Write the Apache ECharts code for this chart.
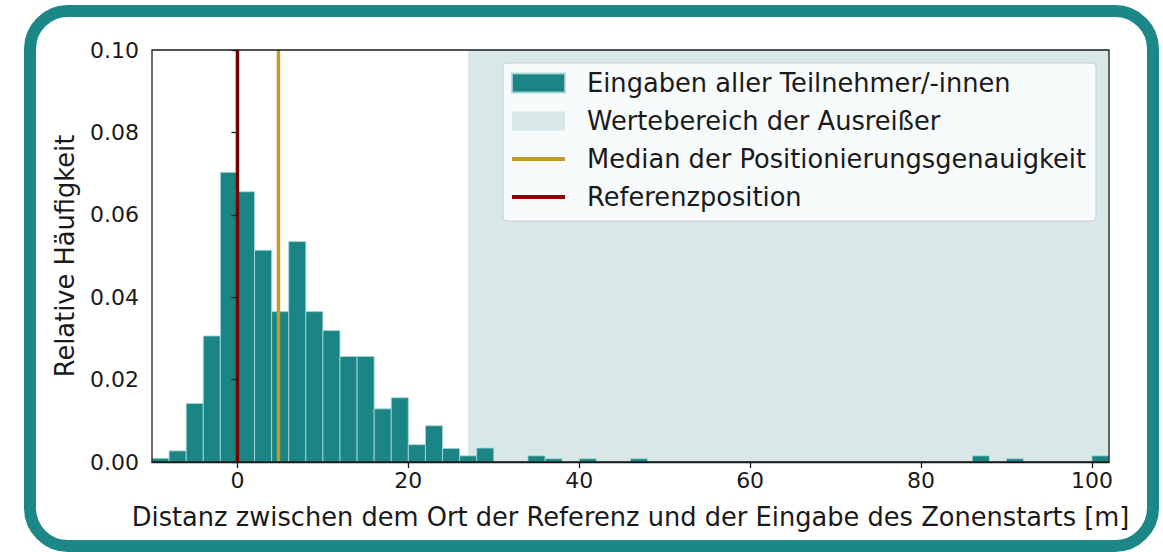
<!DOCTYPE html>
<html>
<head>
<meta charset="utf-8">
<script src="https://cdn.jsdelivr.net/npm/echarts@6/dist/echarts.min.js"></script>
<style>
  html, body { margin: 0; padding: 0; background: #ffffff; }
  #wrap { position: relative; width: 1163px; height: 552px; overflow: hidden; background: #fff; }
  #chart { position: absolute; left: 0; top: 0; width: 1163px; height: 552px; }
  #frame { position: absolute; left: 24px; top: 5px; width: 1135px; height: 547px; box-sizing: border-box;
           border: 12px solid #1b8787; border-radius: 44px; pointer-events: none; }
</style>
</head>
<body>
<div id="wrap">
  <div id="chart"></div>
  <div id="frame"></div>
</div>
<script>
// ---- data ----
const binWidth = 2;
const binLeft = [-10, -8, -6, -4, -2, 0, 2, 4, 6, 8, 10, 12, 14, 16, 18, 20, 22, 24, 26, 28, 34, 36, 40, 46, 86, 90, 100];
const relFreq = [0.0009, 0.0027, 0.0142, 0.0306, 0.0703, 0.0656, 0.0514, 0.0365, 0.0535, 0.0365, 0.0319, 0.0256, 0.0256, 0.0129, 0.0156, 0.0042, 0.0088, 0.0033, 0.0015, 0.0034, 0.0015, 0.0008, 0.0008, 0.0008, 0.0015, 0.0008, 0.0015];
const outlierRange = [27.0, 102];
const medianValue = 4.8;
const referenceValue = 0;
const xTicks = [0, 20, 40, 60, 80, 100];
const yTicks = [0, 0.02, 0.04, 0.06, 0.08, 0.10];
const xRange = [-10, 102];
const yRange = [0, 0.10];
const names = {
  bars: 'Eingaben aller Teilnehmer/-innen',
  outliers: 'Wertebereich der Ausreißer',
  median: 'Median der Positionierungsgenauigkeit',
  reference: 'Referenzposition'
};
const xTitle = 'Distanz zwischen dem Ort der Referenz und der Eingabe des Zonenstarts [m]';
const yTitle = 'Relative Häufigkeit';

// ---- styles ----
const TEAL = '#1b8585';
const SHADE = '#d8e8e8';
const GOLD = '#c09c2e';
const DARKRED = '#8b0000';
const FONT = 'DejaVu Sans';
const LINE_ICON = 'path://M0,0 L53,0 L53,4 L0,4 Z';

const barData = binLeft.map((l, i) => [l, l + binWidth, relFreq[i]]);

function clipToGrid(rect, params) {
  return echarts.graphic.clipRectByRect(rect, {
    x: params.coordSys.x, y: params.coordSys.y,
    width: params.coordSys.width, height: params.coordSys.height
  });
}

const chart = echarts.init(document.getElementById('chart'), null, { renderer: 'svg' });
chart.setOption({
  animation: false,
  backgroundColor: '#ffffff',
  grid: { left: 152, right: 54, top: 50, bottom: 90, show: true, borderColor: '#1a1a1a', borderWidth: 1.3, backgroundColor: 'transparent', z: 10 },
  xAxis: {
    type: 'value', min: xRange[0], max: xRange[1],
    name: xTitle, nameLocation: 'middle', nameGap: 42,
    nameTextStyle: { fontFamily: FONT, fontSize: 25.7, color: '#1a1a1a' },
    axisLine: { show: true, onZero: false, lineStyle: { color: '#1a1a1a', width: 1.3 } },
    axisTick: { show: true, length: 6, customValues: xTicks, lineStyle: { color: '#1a1a1a', width: 1.3 } },
    axisLabel: { customValues: xTicks, fontFamily: FONT, fontSize: 22, color: '#1a1a1a', margin: 7 },
    splitLine: { show: false }, z: 10
  },
  yAxis: {
    type: 'value', min: yRange[0], max: yRange[1], interval: 0.02,
    name: yTitle, nameLocation: 'middle', nameGap: 74,
    nameTextStyle: { fontFamily: FONT, fontSize: 25.7, color: '#1a1a1a' },
    axisLine: { show: true, lineStyle: { color: '#1a1a1a', width: 1.3 } },
    axisTick: { show: true, length: 6, lineStyle: { color: '#1a1a1a', width: 1.3 } },
    axisLabel: { fontFamily: FONT, fontSize: 22, color: '#1a1a1a', margin: 13, formatter: v => v.toFixed(2) },
    splitLine: { show: false }, z: 10
  },
  legend: {
    orient: 'vertical', left: 503, top: 63,
    data: [
      { name: names.bars, icon: 'rect' },
      { name: names.outliers, icon: 'rect' },
      { name: names.median, icon: LINE_ICON },
      { name: names.reference, icon: LINE_ICON }
    ],
    itemWidth: 53, itemHeight: 19, itemGap: 12,
    padding: [7, 10, 11, 8],
    backgroundColor: 'rgba(255,255,255,0.8)', borderColor: '#cccccc', borderWidth: 1, borderRadius: 4,
    textStyle: { fontFamily: FONT, fontSize: 25.7, color: '#1a1a1a', padding: [0, 0, 0, 17], lineHeight: 26 },
    z: 20
  },
  series: [
    {
      name: names.outliers, type: 'custom', z: 1,
      itemStyle: { color: SHADE },
      data: [[outlierRange[0], outlierRange[1], yRange[0], yRange[1]]],
      encode: { x: [0, 1], y: [2, 3] },
      renderItem: (params, api) => {
        const p0 = api.coord([api.value(0), api.value(3)]);
        const p1 = api.coord([api.value(1), api.value(2)]);
        const r = clipToGrid({ x: p0[0], y: p0[1], width: p1[0] - p0[0], height: p1[1] - p0[1] }, params);
        return r && { type: 'rect', shape: r, style: { fill: SHADE } };
      }
    },
    {
      name: names.bars, type: 'custom', z: 2,
      itemStyle: { color: TEAL, borderColor: 'rgba(170,215,215,0.85)', borderWidth: 1 },
      data: barData,
      encode: { x: [0, 1], y: 2 },
      renderItem: (params, api) => {
        const p0 = api.coord([api.value(0), api.value(2)]);
        const p1 = api.coord([api.value(1), 0]);
        const r = clipToGrid({ x: p0[0], y: p0[1], width: p1[0] - p0[0], height: p1[1] - p0[1] }, params);
        return r && { type: 'rect', shape: r, style: { fill: TEAL, stroke: 'rgba(170,215,215,0.85)', lineWidth: 1 } };
      }
    },
    {
      name: names.median, type: 'line', z: 3, symbol: 'none',
      itemStyle: { color: GOLD },
      lineStyle: { color: GOLD, width: 3.5 },
      data: [[medianValue, yRange[0]], [medianValue, yRange[1]]]
    },
    {
      name: names.reference, type: 'line', z: 4, symbol: 'none',
      itemStyle: { color: DARKRED },
      lineStyle: { color: DARKRED, width: 3.5 },
      data: [[referenceValue, yRange[0]], [referenceValue, yRange[1]]]
    }
  ]
});
</script>
</body>
</html>
